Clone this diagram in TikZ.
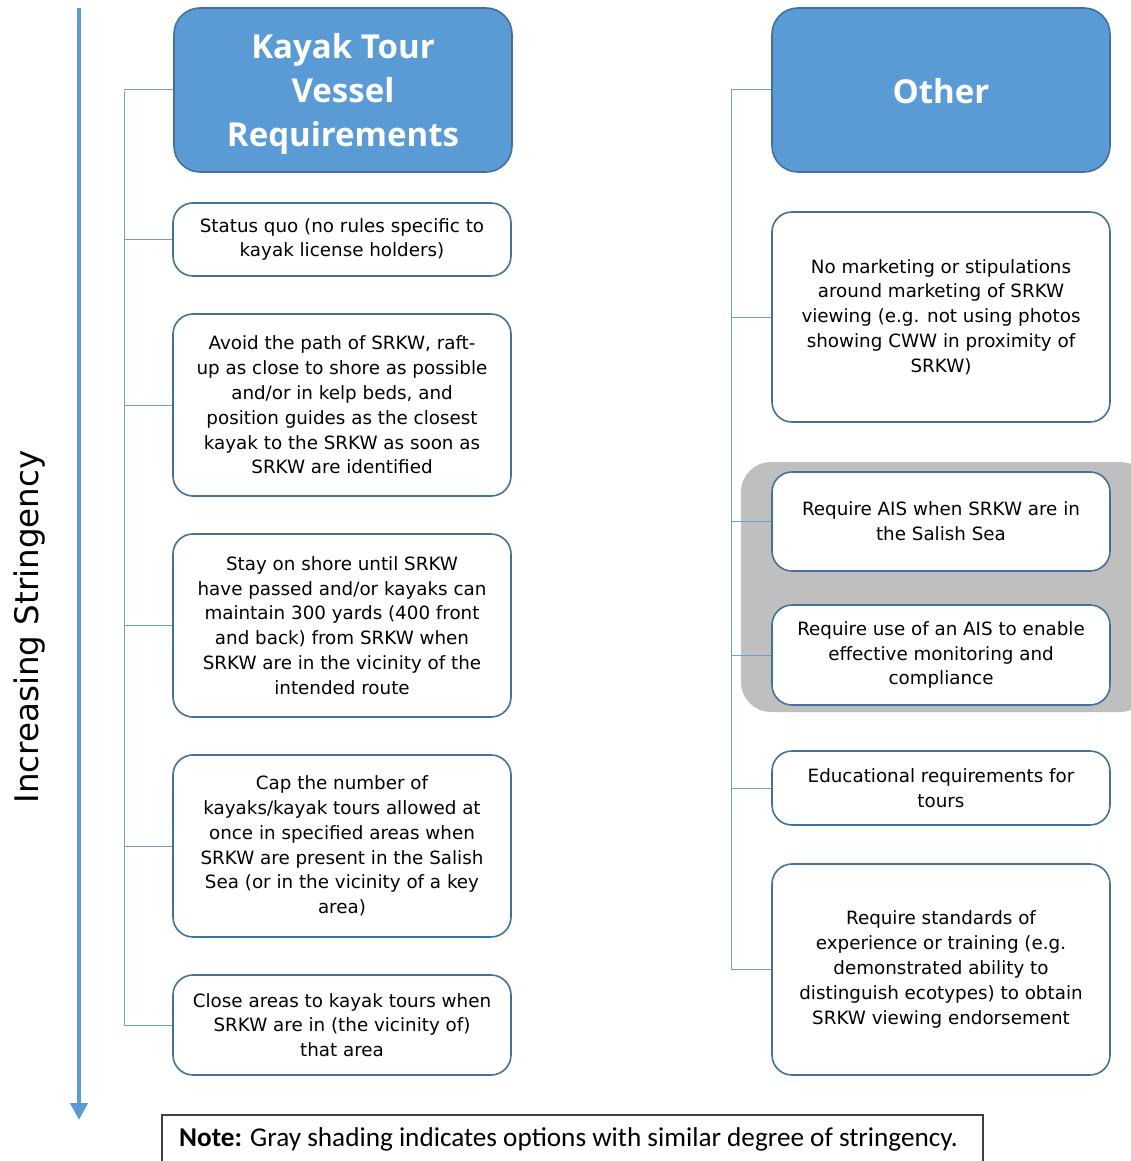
\documentclass[tikz,border=0pt]{standalone}
\usepackage{fontspec}
\setmainfont{DejaVu Sans}
\newfontfamily\headfont{Open Sans}
\newfontfamily\notefont{Carlito}
\usetikzlibrary{arrows.meta}
\definecolor{hblue}{HTML}{5B9BD5}
\definecolor{bblue}{HTML}{41719C}
\definecolor{lblue}{HTML}{6C9FD2}
\definecolor{greyfill}{HTML}{BFBFBF}
\tikzset{
  x=1pt,y=-1pt,
  box/.style={draw=bblue, line width=1.6pt, fill=white, rounded corners=20pt,
    align=center, font=\fontsize{18.3}{24.8}\selectfont, text=black, inner sep=0pt},
  head/.style={draw=bblue, line width=1.6pt, fill=hblue, rounded corners=26pt,
    inner sep=0pt, minimum width=338pt, minimum height=164pt},
  headtext/.style={align=center, font=\headfont\fontsize{33}{44}\selectfont\bfseries,
    text=white, inner sep=0pt},
  conn/.style={draw=lblue, line width=1pt},
}
\begin{document}
\begin{tikzpicture}
\useasboundingbox (0,0) rectangle (1131,1161);
% stringency arrow
\coordinate (atop) at (79,8);
\coordinate (abot) at (79,1120);
\draw[hblue, line width=4.5pt, -{Triangle[length=17pt,width=17pt]}] (atop) -- (abot);
\node[rotate=90, font=\fontsize{32.5}{36}\selectfont] (stri) at (30,627) {Increasing Stringency};
% gray shading
\fill[greyfill, rounded corners=30pt] (741,462) rectangle (1150,712);
% left column
\node[head] (lh) at (343,90) {};
\node[headtext] (lht) at ([yshift=-4pt]lh.center) {Kayak Tour\\Vessel\\Requirements};
\node[box, minimum width=338pt, minimum height=73pt] (l1) at (342,239.5) {Status quo (no rules specific to\\kayak license holders)};
\node[box, minimum width=338pt, minimum height=182pt] (l2) at (342,405) {Avoid the path of SRKW, raft-\\up as close to shore as possible\\and/or in kelp beds, and\\position guides as the closest\\kayak to the SRKW as soon as\\SRKW are identified};
\node[box, minimum width=338pt, minimum height=183pt] (l3) at (342,625.5) {Stay on shore until SRKW\\have passed and/or kayaks can\\maintain 300 yards (400 front\\and back) from SRKW when\\SRKW are in the vicinity of the\\intended route};
\node[box, minimum width=338pt, minimum height=182pt] (l4) at (342,846) {Cap the number of\\kayaks/kayak tours allowed at\\once in specified areas when\\SRKW are present in the Salish\\Sea (or in the vicinity of a key\\area)};
\node[box, minimum width=338pt, minimum height=100pt] (l5) at (342,1025) {Close areas to kayak tours when\\SRKW are in (the vicinity of)\\that area};
\coordinate (lt) at (124,91);
\coordinate (lb) at (124,1025);
\draw[conn] (lt) -- (lb);
\foreach \n in {lh,l1,l2,l3,l4,l5} \draw[conn] (\n.west) -- (\n.west -| lt);
% right column
\node[head] (rh) at (941,90) {};
\node[headtext] (rht) at ([yshift=-1pt]rh.center) {Other};
\node[box, minimum width=338pt, minimum height=210pt] (r1) at (941,317) {No marketing or stipulations\\around marketing of SRKW\\viewing (e.g. not using photos\\showing CWW in proximity of\\SRKW)};
\node[box, minimum width=338pt, minimum height=99pt] (r2) at (941,521.5) {Require AIS when SRKW are in\\the Salish Sea};
\node[box, minimum width=338pt, minimum height=100pt] (r3) at (941,655) {Require use of an AIS to enable\\effective monitoring and\\compliance};
\node[box, minimum width=338pt, minimum height=74pt] (r4) at (941,788) {Educational requirements for\\tours};
\node[box, minimum width=338pt, minimum height=211pt] (r5) at (941,969.5) {Require standards of\\experience or training (e.g.\\demonstrated ability to\\distinguish ecotypes) to obtain\\SRKW viewing endorsement};
\coordinate (rt) at (731,90);
\coordinate (rb) at (731,970);
\draw[conn] (rt) -- (rb);
\foreach \n in {rh,r1,r2,r3,r4,r5} \draw[conn] (\n.west) -- (\n.west -| rt);
% note
\draw[black!75, line width=1.2pt] (162,1175) -- (162,1115) -- (983,1115) -- (983,1175);
\node[anchor=west, font=\notefont\fontsize{27.2}{30}\selectfont, inner sep=0pt] (note) at (179,1139) {\textbf{Note:} Gray shading indicates options with similar degree of stringency.};
\end{tikzpicture}
\end{document}
